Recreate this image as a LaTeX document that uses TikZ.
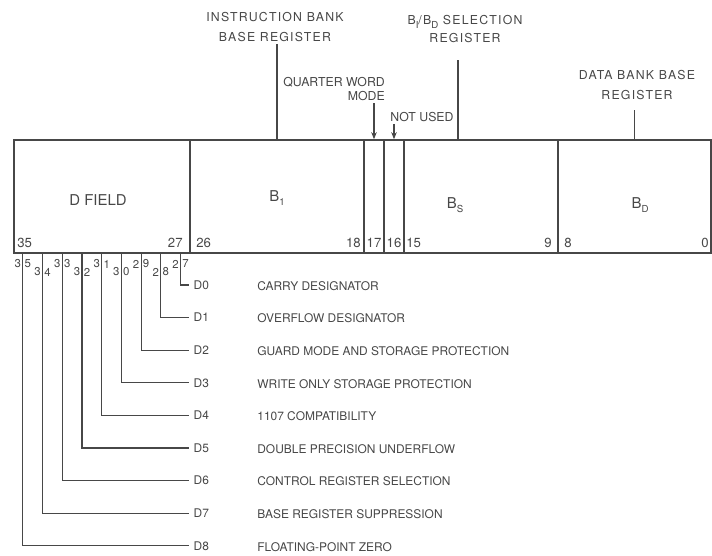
\documentclass[tikz,border=0pt]{standalone}
\usepackage{fontspec}
\setmainfont{TeX Gyre Heros}
\newfontfamily\spacedfont[LetterSpace=10]{TeX Gyre Heros}
\usetikzlibrary{
    positioning,
    arrows.meta,
    fit,
    calc,
}
\definecolor{ink}{HTML}{474747}
\newcommand{\lowsub}[1]{\raisebox{-0.55ex}{\fontsize{5.5}{6}\selectfont #1}}
\tikzset{
    % Register field styles
    field/.style={draw=ink, line width=0.9pt, inner sep=0pt},
    fieldname/.style={font=\fontsize{8.5}{9}\selectfont, text=ink},
    bitno/.style={font=\fontsize{7.5}{8}\selectfont, text=ink, inner sep=0pt},
    bitdigit/.style={font=\fontsize{6.5}{7}\selectfont, text=ink, inner sep=0pt},
    % Label styles
    toplabel/.style={font=\spacedfont\fontsize{7}{11.3}\selectfont, text=ink,
                     align=center, inner sep=1pt},
    plainlabel/.style={font=\fontsize{7}{8.5}\selectfont, text=ink, inner sep=1pt},
    dname/.style={font=\fontsize{6.8}{8}\selectfont, text=ink, anchor=west, inner sep=2.5pt},
    ddesc/.style={font=\fontsize{6.8}{8}\selectfont, text=ink, anchor=west, inner sep=0pt},
    % Connector styles
    leader/.style={draw=ink, line width=0.6pt},
    pointer/.style={leader, -{Stealth[length=1.4mm, width=1.1mm]}},
}

\begin{document}
\begin{tikzpicture}[x=0.02cm, y=-0.02cm]
    \useasboundingbox (0,0) rectangle (712,555);

    % Register word
    \node[field, fit={(14,140) (190,253)}] (dfield) {};
    \node[field, fit={(190,140) (364,253)}] (bone) {};
    \node[field, fit={(364,140) (384,253)}] (qwbit) {};
    \node[field, fit={(384,140) (404,253)}] (nubit) {};
    \node[field, fit={(404,140) (558,253)}] (bsel) {};
    \node[field, fit={(558,140) (711,253)}] (bdata) {};

    \node[fieldname] (dfieldname) at (98,200) {D FIELD};
    \node[fieldname] (bonename) at (277,198) {B\lowsub{1}};
    \node[fieldname] (bselname) at (455,205) {B\lowsub{S}};
    \node[fieldname] (bdataname) at (640,205) {B\lowsub{D}};

    % Bit numbers
    \node[bitno, anchor=west] (b35) at (17,243) {35};
    \node[bitno, anchor=east] (b27) at (183,243) {27};
    \node[bitno, anchor=west] (b26) at (196,243) {26};
    \node[bitno, anchor=east] (b18) at (361,243) {18};
    \node[bitno] (b17) at (374,243) {17};
    \node[bitno] (b16) at (394,243) {16};
    \node[bitno, anchor=west] (b15) at (406,243) {15};
    \node[bitno, anchor=east] (b9) at (552,243) {9};
    \node[bitno, anchor=west] (b8) at (564,243) {8};
    \node[bitno, anchor=east] (b0) at (709,243) {0};

    % Top labels
    \node[toplabel] (ibank) at (275,27) {INSTRUCTION BANK\\BASE REGISTER};
    \node[toplabel, font=\spacedfont\fontsize{7}{10}\selectfont] (selreg) at (465,29)
        {B\lowsub{I}/B\lowsub{D} SELECTION\\REGISTER};
    \node[toplabel] (dbank) at (637,85) {DATA BANK BASE\\REGISTER};
    \node[plainlabel, align=right] (qword) at (334,89) {QUARTER WORD\\MODE};
    \node[plainlabel] (notused) at (422,117) {NOT USED};

    \coordinate (selpin) at (458,140);
    \coordinate (dbankpin) at (bdata.north);

    \draw[leader] (bone.north) -- (bone.north |- ibank.south);
    \draw[leader] (selpin) -- ($(selpin |- selreg.south)+(0,15)$);
    \draw[leader] (dbankpin) -- ($(dbankpin |- dbank.south)+(0,8)$);
    \draw[pointer] (qword.south -| qwbit.north) -- (qwbit.north);
    \draw[pointer] (notused.south -| nubit.north) -- (nubit.north);

    % D field designators
    \foreach \idx/\desc in {0/CARRY DESIGNATOR, 1/OVERFLOW DESIGNATOR,
        2/GUARD MODE AND STORAGE PROTECTION, 3/WRITE ONLY STORAGE PROTECTION,
        4/1107 COMPATIBILITY, 5/DOUBLE PRECISION UNDERFLOW,
        6/CONTROL REGISTER SELECTION, 7/BASE REGISTER SUPPRESSION,
        8/FLOATING-POINT ZERO} {
        \pgfmathsetmacro\bx{180.5-19.7*\idx}
        \pgfmathsetmacro\dy{285+32.6*\idx}
        \pgfmathtruncatemacro\bit{27+\idx}
        \pgfmathtruncatemacro\tens{\bit/10}
        \pgfmathtruncatemacro\units{mod(\bit,10)}
        \pgfmathsetmacro\ty{mod(\idx,2)==0 ? 264 : 272}
        \coordinate (pin\idx) at (\bx,253);
        \node[bitdigit] (tens\idx) at (\bx-5,\ty) {\tens};
        \node[bitdigit] (units\idx) at (\bx+5,\ty) {\units};
        \node[dname] (d\idx) at (189,\dy) {D\idx};
        \node[ddesc] (desc\idx) at (257,\dy+1) {\desc};
        \draw[leader] (pin\idx) |- (d\idx.west);
    }
\end{tikzpicture}
\end{document}
